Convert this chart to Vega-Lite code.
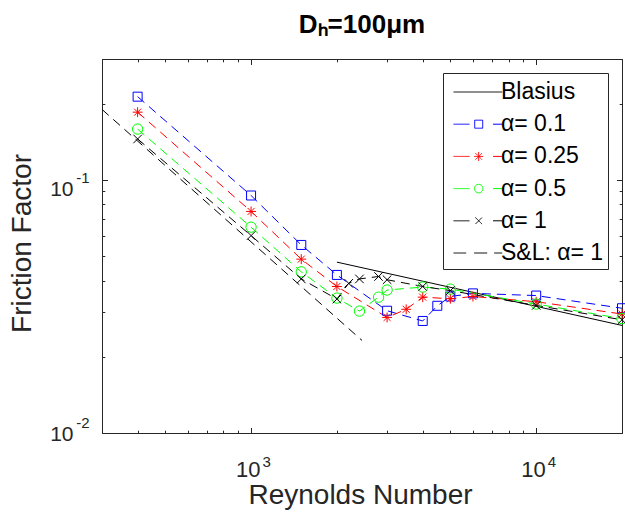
{
  "$schema": "https://vega.github.io/schema/vega-lite/v6.json",
  "width": 520,
  "height": 374,
  "autosize": {"type": "none"},
  "padding": {"left": 102, "top": 59, "right": 3, "bottom": 86},
  "background": "white",
  "title": {"text": "Dₕ=100μm", "fontSize": 26, "fontWeight": "bold", "font": "Liberation Sans", "color": "black", "anchor": "middle", "baseline": "alphabetic", "frame": "group", "offset": -10},
  "config": {"view": {"stroke": "#262626", "strokeWidth": 1}, "font": "Liberation Sans"},
  "data": {"values": [
    {"series": "Blasius", "Re": 2000, "f": 0.0473},
    {"series": "Blasius", "Re": 20000, "f": 0.0266},
    {"series": "S&L: α= 1", "Re": 300, "f": 0.1897},
    {"series": "S&L: α= 1", "Re": 2450, "f": 0.0232},
    {"series": "α= 0.1", "Re": 400, "f": 0.213},
    {"series": "α= 0.1", "Re": 1000, "f": 0.0867},
    {"series": "α= 0.1", "Re": 1500, "f": 0.0553},
    {"series": "α= 0.1", "Re": 2000, "f": 0.0421},
    {"series": "α= 0.1", "Re": 3000, "f": 0.0304},
    {"series": "α= 0.1", "Re": 4000, "f": 0.0277},
    {"series": "α= 0.1", "Re": 4500, "f": 0.0318},
    {"series": "α= 0.1", "Re": 5000, "f": 0.0346},
    {"series": "α= 0.1", "Re": 6000, "f": 0.0356},
    {"series": "α= 0.1", "Re": 10000, "f": 0.0349},
    {"series": "α= 0.1", "Re": 20000, "f": 0.0311},
    {"series": "α= 0.25", "Re": 400, "f": 0.185},
    {"series": "α= 0.25", "Re": 1000, "f": 0.075},
    {"series": "α= 0.25", "Re": 1500, "f": 0.0486},
    {"series": "α= 0.25", "Re": 2000, "f": 0.0379},
    {"series": "α= 0.25", "Re": 3000, "f": 0.0286},
    {"series": "α= 0.25", "Re": 3500, "f": 0.0308},
    {"series": "α= 0.25", "Re": 4000, "f": 0.0344},
    {"series": "α= 0.25", "Re": 5000, "f": 0.0339},
    {"series": "α= 0.25", "Re": 6000, "f": 0.0346},
    {"series": "α= 0.25", "Re": 10000, "f": 0.033},
    {"series": "α= 0.25", "Re": 20000, "f": 0.0295},
    {"series": "α= 0.5", "Re": 400, "f": 0.1586},
    {"series": "α= 0.5", "Re": 1000, "f": 0.065},
    {"series": "α= 0.5", "Re": 1500, "f": 0.0433},
    {"series": "α= 0.5", "Re": 2000, "f": 0.0341},
    {"series": "α= 0.5", "Re": 2400, "f": 0.0303},
    {"series": "α= 0.5", "Re": 2800, "f": 0.0344},
    {"series": "α= 0.5", "Re": 3000, "f": 0.0367},
    {"series": "α= 0.5", "Re": 4000, "f": 0.0377},
    {"series": "α= 0.5", "Re": 5000, "f": 0.037},
    {"series": "α= 0.5", "Re": 10000, "f": 0.0323},
    {"series": "α= 0.5", "Re": 20000, "f": 0.0283},
    {"series": "α= 1", "Re": 400, "f": 0.145},
    {"series": "α= 1", "Re": 1000, "f": 0.0602},
    {"series": "α= 1", "Re": 1500, "f": 0.0406},
    {"series": "α= 1", "Re": 2000, "f": 0.0338},
    {"series": "α= 1", "Re": 2200, "f": 0.039},
    {"series": "α= 1", "Re": 2400, "f": 0.0406},
    {"series": "α= 1", "Re": 2800, "f": 0.0415},
    {"series": "α= 1", "Re": 3000, "f": 0.0403},
    {"series": "α= 1", "Re": 4000, "f": 0.0379},
    {"series": "α= 1", "Re": 5000, "f": 0.0365},
    {"series": "α= 1", "Re": 10000, "f": 0.0319},
    {"series": "α= 1", "Re": 20000, "f": 0.028}
  ]},
  "layer": [
    {
      "transform": [{"filter": "datum.series == 'Blasius'"}],
      "mark": {"type": "line", "strokeWidth": 1, "clip": false},
      "encoding": {
        "x": {"field": "Re", "type": "quantitative",
          "scale": {"type": "log", "domain": [300, 20000], "nice": false},
          "axis": {"orient": "bottom", "values": [300,400,500,600,700,800,900,1000,2000,3000,4000,5000,6000,7000,8000,9000,10000,20000],
            "labelExpr": "datum.value == 1000 || datum.value == 10000 ? '10' : ''",
            "domain": false, "grid": false, "tickColor": "#262626",
            "tickSize": {"condition": {"test": "datum.value == 1000 || datum.value == 10000", "value": -5.5}, "value": -2.8},
            "labelFontSize": 22, "labelFont": "Liberation Sans", "labelColor": "#262626", "labelBaseline": "alphabetic", "labelAlign": "right", "labelOffset": 9, "labelPadding": 48.5,
            "labelOverlap": false, "labelFlush": false, "labelBound": false,
            "title": "Reynolds Number", "titleFontSize": 28, "titleFont": "Liberation Sans", "titleFontWeight": "normal", "titleColor": "#262626",
            "titleX": 258, "titleY": 70, "titleBaseline": "alphabetic", "titleAlign": "center"}},
        "y": {"field": "f", "type": "quantitative",
          "scale": {"type": "log", "domain": [0.01, 0.3], "nice": false},
          "axis": {"orient": "left", "values": [0.01,0.02,0.03,0.04,0.05,0.06,0.07,0.08,0.09,0.1,0.2,0.3],
            "labelExpr": "datum.value == 0.01 || datum.value == 0.1 ? '10' : ''",
            "domain": false, "grid": false, "tickColor": "#262626",
            "tickSize": {"condition": {"test": "datum.value == 0.01 || datum.value == 0.1", "value": -5.5}, "value": -2.8},
            "labelFontSize": 21, "labelFont": "Liberation Sans", "labelColor": "#262626", "labelBaseline": "alphabetic", "labelAlign": "right", "labelPadding": 34.5,
            "labelOffset": {"condition": {"test": "datum.value == 0.1", "value": 15.5}, "value": 7},
            "labelOverlap": false, "labelFlush": false, "labelBound": false,
            "title": "Friction Factor", "titleFontSize": 28, "titleFont": "Liberation Sans", "titleFontWeight": "normal", "titleColor": "#262626",
            "titleX": -80, "titleY": 184, "titleAngle": -90, "titleBaseline": "middle", "titleAlign": "center"}},
        "color": {"field": "series", "type": "nominal",
          "scale": {"domain": ["Blasius", "α= 0.1", "α= 0.25", "α= 0.5", "α= 1", "S&L: α= 1"], "range": ["#000000", "#0000ff", "#ff0000", "#00ff00", "#000000", "#000000"]},
          "legend": {"orient": "none", "legendX": 341, "legendY": 14,
            "title": " ", "titleFontSize": 3.5, "titlePadding": 0,
            "padding": 4, "strokeColor": "#262626", "fillColor": "white",
            "symbolSize": 100, "symbolStrokeWidth": 1, "symbolDash": [1, 0],
            "labelFontSize": 23, "labelFont": "Liberation Sans", "labelColor": "black", "labelOffset": 31, "rowPadding": 8.2, "labelLimit": 300,
            "labelExpr": "datum.label + '\u00a0\u00a0'",
            "encode": {"symbols": {"update": {
              "shape": {"signal": "['M-1,0H8.75', 'M-1,0H2.2M3.24,-0.8H4.84V0.8H3.24ZM6.9,0H8.75', 'M-1,0H2.2M3.14,0H4.94M4.04,-0.9V0.9M3.4,-0.64L4.68,0.64M3.4,0.64L4.68,-0.64M6.9,0H8.75', 'M-1,0H2.2M3.19,0A0.85,0.85 0 1,0 4.89,0A0.85,0.85 0 1,0 3.19,0M6.9,0H8.75', 'M-1,0H2.2M3.39,-0.65L4.69,0.65M3.39,0.65L4.69,-0.65M6.9,0H8.75', 'M-1,0H1.54M3.14,0H5.74M7.14,0H8.74'][datum.index]"},
              "fill": {"value": "transparent"},
              "opacity": {"value": 1}
            }}}}}
      }
    },
    {
      "transform": [{"filter": "datum.series != 'Blasius'"}],
      "mark": {"type": "line", "strokeWidth": 1, "strokeDash": [9, 6], "clip": false},
      "encoding": {
        "x": {"field": "Re", "type": "quantitative", "scale": {"type": "log", "domain": [300, 20000], "nice": false}, "axis": null},
        "y": {"field": "f", "type": "quantitative", "scale": {"type": "log", "domain": [0.01, 0.3], "nice": false}, "axis": null},
        "color": {"field": "series", "type": "nominal", "legend": null}
      }
    },
    {
      "transform": [{"filter": "datum.series != 'Blasius' && datum.series != 'S&L: α= 1'"}],
      "mark": {"type": "point", "filled": false, "strokeWidth": 1, "size": 81, "opacity": 1, "clip": false},
      "encoding": {
        "x": {"field": "Re", "type": "quantitative",
          "scale": {"type": "log", "domain": [300, 20000], "nice": false},
          "axis": {"orient": "top", "values": [300,400,500,600,700,800,900,1000,2000,3000,4000,5000,6000,7000,8000,9000,10000,20000],
            "labels": false, "title": null, "domain": false, "grid": false, "tickColor": "#262626",
            "tickSize": {"condition": {"test": "datum.value == 1000 || datum.value == 10000", "value": -5.5}, "value": -2.8}}},
        "y": {"field": "f", "type": "quantitative",
          "scale": {"type": "log", "domain": [0.01, 0.3], "nice": false},
          "axis": {"orient": "right", "values": [0.01,0.02,0.03,0.04,0.05,0.06,0.07,0.08,0.09,0.1,0.2,0.3],
            "labels": false, "title": null, "domain": false, "grid": false, "tickColor": "#262626",
            "tickSize": {"condition": {"test": "datum.value == 0.01 || datum.value == 0.1", "value": -5.5}, "value": -2.8}}},
        "color": {"field": "series", "type": "nominal", "legend": null},
        "shape": {"field": "series", "type": "nominal",
          "scale": {"domain": ["α= 0.1", "α= 0.25", "α= 0.5", "α= 1"],
            "range": ["M-1,-1H1V1H-1Z", "M-1.1,0H1.1M0,-1.1V1.1M-0.78,-0.78L0.78,0.78M-0.78,0.78L0.78,-0.78", "M-1.15,0A1.15,1.15 0 1,0 1.15,0A1.15,1.15 0 1,0 -1.15,0", "M-0.95,-0.95L0.95,0.95M-0.95,0.95L0.95,-0.95"]},
          "legend": null}
      }
    },
    {
      "transform": [{"filter": "datum.series == 'Blasius'"}],
      "mark": {"type": "point", "opacity": 0},
      "encoding": {
        "x": {"field": "Re", "type": "quantitative",
          "scale": {"type": "log", "domain": [300, 20000], "nice": false},
          "axis": {"orient": "bottom", "values": [1000, 10000],
            "labelExpr": "datum.value == 1000 ? '3' : '4'",
            "ticks": false, "tickSize": 0, "domain": false, "grid": false, "title": null,
            "labelFontSize": 15, "labelFont": "Liberation Sans", "labelColor": "#262626", "labelBaseline": "alphabetic", "labelAlign": "left", "labelOffset": 11, "labelPadding": 33,
            "labelOverlap": false, "labelFlush": false, "labelBound": false}},
        "y": {"field": "f", "type": "quantitative",
          "scale": {"type": "log", "domain": [0.01, 0.3], "nice": false},
          "axis": {"orient": "left", "values": [0.01, 0.1],
            "labelExpr": "datum.value == 0.01 ? '-2' : '-1'",
            "ticks": false, "tickSize": 0, "domain": false, "grid": false, "title": null,
            "labelFontSize": 15, "labelFont": "Liberation Sans", "labelColor": "#262626", "labelBaseline": "alphabetic", "labelAlign": "right", "labelPadding": 13,
            "labelOffset": {"condition": {"test": "datum.value == 0.1", "value": 3}, "value": -6},
            "labelOverlap": false, "labelFlush": false, "labelBound": false}}
      }
    }
  ],
  "resolve": {"axis": {"x": "independent", "y": "independent"}}
}
